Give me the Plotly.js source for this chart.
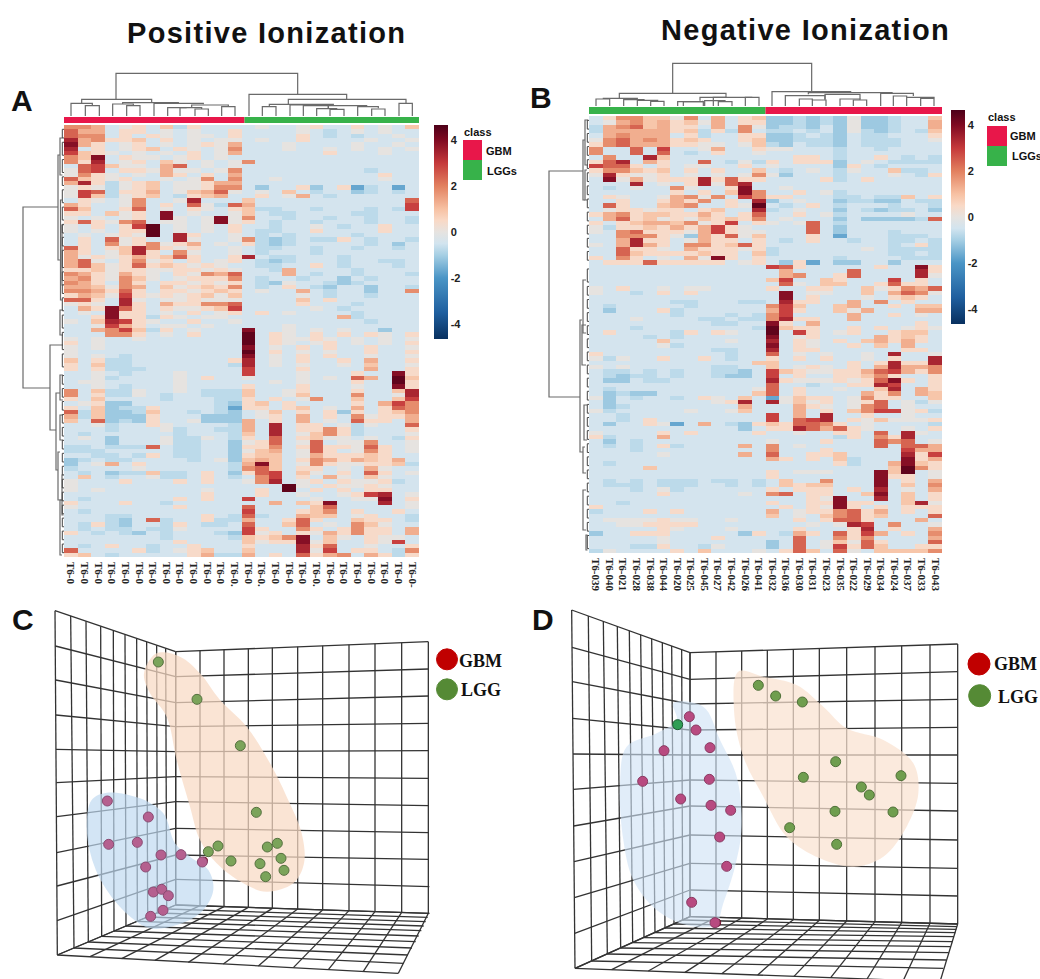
<!DOCTYPE html>
<html><head><meta charset="utf-8">
<script src="https://cdn.plot.ly/plotly-3.0.1.min.js"></script>
<style>html,body{margin:0;padding:0;background:#fff;overflow:hidden}#p{width:1040px;height:979px}</style>
</head><body><div id="p"></div>
<script>
// ---- heat level code -> z value
const levelKeys = "dcba0123456789";
const levelVals = [-1.7,-1.1,-0.75,-0.45,0,0.45,0.9,1.3,1.8,2.4,2.9,3.4,3.9,4.4];
// ---- panel A rows (metabolites) x samples
const rowsA = [
"443a01a2b1aaa"+"a0aa01aa1a0a2","533a11a0a0aa1"+"aaaa0aba0a0aa","544a1a10a00a1"+"aaaa1ababaa0a","734112a1a0a00"+"a0aa1aaaa0aa0",
"831a01a0a0103"+"aaa0aaaa0aa0a","7a1a012a10a04"+"aaa0aa0a0a0a0","6210a0a0a1a03"+"aaaaaa1aaa0aa","428a100a01a0a"+"aaaaaaaaaaaaa",
"417a01a20a0a0"+"4aaaaaaaaaaaa","a56200a35a0a0"+"aaaaaaaaaaaaa","056a110300a04"+"aaaaaaaaabaaa","0410a0a31a1a3"+"aaaaaaaaaa1aa",
"52101aa0a04a4"+"aa0aaaaaaa0aa","371b012a00133"+"aaaaaaaaaaaaa","010b012a00144"+"acaa1ca1dbada","065b113a02350"+"a0a2abaacbaba",
"062b012ab123a"+"a1a03abaaaaaa","a10a04aa07aaa"+"2aaaaaaaaaaa5","31aa04a1a50b5"+"3aaaaaaaaaaa6","52aa15a0a10a1"+"2bbaabaaabab6",
"11a201a8a0aa0"+"2abbaaaabbaaa","0a0a01a80a080"+"4aabaabaabaab","151045a00a080"+"1abaabaaabaab","0a1a169a0a0a1"+"aabaa0abaa1aa",
"0a0a119a0a0a1"+"abbaa1aaaa1aa","a0a0109a71aa0"+"ababaaaabaaaa","a1a501aa70aa0"+"4bcbabb1abaab","a1a4014013a0a"+"1bcbaaaaabaca",
"51a1274101aa0"+"abbaabaabaaba","31a0271a40aa0"+"abaaabaaaaaaa","3010131251aa1"+"7abbaaabaaaaa","350a1401a1a01"+"abcbaaabaabba",
"352015121010a"+"abbaa1abaaaba","1120110011010"+"aab3aaaabaaaa","4310310a10435"+"aaa3abaabaaab","3410420a01114"+"abaabaacabaaa",
"431a41a110101"+"abc0aabcbaaaa","332043a201214"+"aba1abcaacaab","443151a110121"+"a0aa3abaacaa4","1320610101202"+"aaaa0abaabaaa",
"551a70a001000"+"aaaa2a1aaaaaa","010a71a311445"+"aaaa1aaabaaaa","a31851a100126"+"aaaaa0abaaaaa","a0a811a0a1a01"+"a1a0aaaabaaaa",
"aa1811b10a00a"+"aaaaaaa3baaaa","0a27610aa1aa0"+"aaaaaaaaabaaa","aa0631a00a0aa"+"aaa0aaaaaaaaa","aa3462b1a0aaa"+"8aa0a0a0aacaa",
"aaa441a0a1aaa"+"9a10a1a1a10a1","0a0aa0aaaaaaa"+"9a10010a0a0a0","1a0aaaaaaaaaa"+"9a10a01a0a0a1","0a0aaaaaaaaaa"+"8a0a1a1aa1aa0",
"0aaaaaaaaaaaa"+"9a1a0a0aa1aa1","0a0abaaaaaaaa"+"8a0a1a1aa0aa0","2a1bbaaaaaaa1"+"7a0a1aa1a3aa1","1a2bbaaaaaaab"+"7a0a0aa0a2aa0",
"1a1bbbaaaaaaa"+"6aaa1aaaa3aa1","aa0abaaa0aaaa"+"6aaa0aaa1aa81","aa0baaaa0a1aa"+"0aaa0a0a53a92","a00aaaaa0aaaa"+"aa0a0aaa1aa91",
"aa0abaaa0aaaa"+"1aaa1aaa0aa81","4a2bb0aa0abbb"+"2aa01aaa1aa27","4a1bb0abaabbb"+"2aa02aaa4aa07","1a2aaaabaaabb"+"1a1a04aa2aa26",
"a01ccaaaaaabc"+"12a1aaaa1a364","1a2cbb1aaaabd"+"11a12a0a3a154","5b2ccb2aababc"+"a02a1a1c1a124","3b2ccc1aaaccc"+"a01a3a1a40113",
"2a5cbc1aa0ccc"+"3a1a3a0a511a3","aa0baa10aaaab"+"3a7a11a0b0aa5","aaabaaa0baabb"+"3a7a1141baaa1","abaaaaaabaaab"+"2a7a0241baaa0",
"a0acaaa0bb0ab"+"1a5a1200a0ab1","aaacaaa0bbaac"+"015a05a004aa0","bbabbb5abbaac"+"114a1511051a0","bbbaaaaabbaac"+"023a051a041a0",
"aabbab1abbaac"+"122a0311121aa","cbabbaaaaba0c"+"232a14313213a","ca03a1aaaaaab"+"382a04100112b","baaaa0aaaaaab"+"452a11a0a30aa",
"abacbb2bba1ac"+"156a20a1a51a0","a2abaa0bba1ab"+"a46a1a30a20aa","0aaa1aaa1a1aa"+"047a01a1001ba","0aaaaaaaaaaaa"+"aaa90a10010aa",
"0a0aaaaaaa0aa"+"a1a9a1a1a11aa","aaaaaaaaaa1aa"+"a1aa0aa0167a0","abaaaaaa1a1aa"+"6aaaa0aa008a1","1aaa1aabaaaaa"+"aa3a218aaa7a0",
"0aaaaaaa1aaaa"+"5aaaa25aaaaa0","abaaaaaaaaaaa"+"6aaa124a1aa1a","aaabbaaaaa1ab"+"5baa322a01aab","aaabca5baa1bb"+"3aa151aa211ab",
"ab1bcaab1abba"+"5aa25a0a420aa","ababbabb0aaaa"+"61aa41a1411a3","1ababcabaaabc"+"601a1031411a3","aaaaaaabaaaab"+"21248a20a100a",
"aaaaaaaa1aaaa"+"2011802aa106a","aba1aabaa1aaa"+"1aaa715aa0aa1","5aaaa1ba012aa"+"2aaa706a11ab4","12abaaaaa13bb"+"3a1a5134a31b1"
];
// ---- panel B rows
const rowsB = [
"a1442204a3a12"+"ccbcbc0ccbaa2","a034231203a11"+"ccbcbc0ccbaa3","b3452311a3a40"+"cbbcac0ccbaa3","b3333312b1b4a"+"bbabac0bcbab2",
"a34333a1baa11"+"ccbabcabbaaa1","045343121aa12"+"ccbbbcabbbaa0","1453331100a02"+"bcabbcabbbaaa","4aa5a6aa03aa1"+"00aaabaabaaaa",
"4aa5a5aba1aa0"+"aaaaabaaaaaaa","a4aa72aaaaaaa"+"aa11abaa1abab","157a31aa5ab0b"+"1a111ca0abbbb","6551a1a00aa1a"+"0aaaac1abaaaa",
"144212a1a1aa2"+"aba0ab0aa2bba","071001a0a0a04"+"0caaabaaa0ab1","a803011171511"+"aaaa1ba1aaaaa","aaa7a0a17057a"+"aaaaaaaaaaaaa",
"aba0aa40aa18a"+"a0aaaaaaaaaaa","aaaaaa1a1a284"+"aa1a0baaaaaaa","a10aa03404a64"+"11aaabbabb2a1","aa1aa1314a1a7"+"ca0aacbbccabb",
"a51aa234aa109"+"aba1abaaabaab","a011011a12aa7"+"ba0aacabcbbac","1341221131a15"+"aa1a0baaaa0aa","a351201021214"+"a0aaacaccccb5",
"1a123324016a1"+"0a05abaaaaaaa","0b1121313610a"+"aaa5acaaaaaaa","0a45111036100"+"aaa5acaaabaaa","aa44410c31502"+"aaa1adaaabbba",
"aa3711a0311a1"+"aba1aabaabbab","0a3731a441251"+"aaaaaaaaaba1b","aa5110a311101"+"baaaaaa0abbbb","aa521111211a2"+"baaaaaaaabbab",
"1a41a0a3081a1"+"aaaaabaaaabbb","a111511111a01"+"ac1daccaacaaa","aaaaaaaaaaaaa"+"651aaaaa1aa81","aaaaaaaaaaaaa"+"a3aaaa5aaaa71",
"aaaaaaaaaaaaa"+"a34aa15aaaa70","aaaaaaaaaaaaa"+"26aa21aaa6a1a","aaaaaaaaaaaaa"+"a50a22aa1511a","0a1aa0a00aaaa"+"1aa11aa201435",
"0aaba1a1aaaaa"+"a8a00aa2a3540","aaaaaaaaaaaaa"+"a8a1aaa0a121a","aaaaaabbaaabb"+"a711aa3a4a1aa","abaaaaabaaaaa"+"462aa23aa1a22",
"acaaa1baaaaaa"+"361aa203aaa33","aaaaaabaaabab"+"46aaaa3aa1a0a","aaa0aaaabbabb"+"4711aa3aaaaaa","aaaaaaaaabbaa"+"81a3aaaaaaa1a",
"aaabaaaaaaaab"+"9211aa1a1a010","a1aaaab1a10aa"+"9a61a01aa122a","aaaababaaaaaa"+"8a01aaaa3121a","aaaaa2aaaa0aa"+"7a10a1a23131a",
"aaaaa0baaaaaa"+"8a10aa1a2a3aa","aaaaaaaaabbaa"+"7a11aaaaaa11a","1aaaaaaaaabaa"+"5a0a0aa0a7aa0","0b0aa1aa1abaa"+"1a1a1aa0a1aa7",
"aaaaaaaaaaaa2"+"2aaaaa1a17117","0a0aaaaaabbaa"+"2a010a1a37334","abbababaabbca"+"6210011356314","abcbbabaabcca"+"6a1aa11241aa1",
"accabbaaaaaaa"+"71000101581a1","aaaaaaaaaaaaa"+"5aabaa1176aa1","abaaaaaaaaaa0"+"5a1aa0aa27a31","acbccaaaaaaa2"+"5a1aaaa314a32",
"0cabaaba10a2a"+"d0211a0411aa2","acaaaaaaa017a"+"70201a015a0b0","acbaaaaaaaa3a"+"aa310a045a0aa","0baaaaa0aa02a"+"aa3a1a246601b",
"aabaaaaaaaaaa"+"6a3a7aa1aa0aa","aaba1aaaaaaaa"+"6a567a1020001","acaa10da3abc1"+"215541a0aaaab","aaaaaaaaaaaca"+"11753510aa0a1",
"0aaaa1a1aaaa1"+"aa0aa11a5a70a","1baaa3aaaaaaa"+"aaaaab1a417aa","acabaaaaaaaaa"+"0aaa1aaa545a0","ababa1baaaa3a"+"4a0aaaaa5a553",
"aaabaaaaaaaaa"+"4aaa1aaaaa633","aaaaa0aaaaa3a"+"5aa112aaaa716","aaaaaaaaaaaaa"+"31a1a2baaa813","abaaaaaaaaaaa"+"aaaaa1baa3821",
"aaaa2aaaaaaaa"+"aaaaaaaaa2941","aaaaaaaaaaaaa"+"1a000aaa829a0","aaaaaaaaaaaaa"+"1aaaaaaa811a0","abababbbabbab"+"a2aa4aaa8a1a3",
"abbbabbbaabab"+"a2122aaa8a2a4","aaaba0baaaaaa"+"1a111a1a7a0a3","aaaaa1aaaaa0a"+"45a11aa28a2a1","aaaaaaaaaaaaa"+"aaa108aa7a2a1",
"aabaaaaaaaaaa"+"1aa11811aa270","1aaaaaaaaaaaa"+"a1a1081a1a111","baaa1a1aaaaaa"+"3a0114513a1a1","aaaaaaaaaaaaa"+"2a0a24512aaa5",
"a0000100aa0aa"+"aa1a1551aaa3a","aa001111aaaaa"+"aaa0a076a4aa0","aaaaa10aaa0aa"+"aa1aaa17a1aa3","caa111aaaaac1"+"ab31a5163a1a4",
"aaaaa0aaa1aaa"+"aa5aa414aaaa3","aaaaa0aaaaaaa"+"ca5a02051aaa5","aaabb1aab0aaa"+"ca5a06152aa11","b0aaaa1a2aaa0"+"a152a50a22224"
];
const labelsA = ["T6-0","T6-0","T6-0","T6-0","T6-0","T6-0","T6-0","T6-0","T6-0","T6-0","T6-0","T6-0","T6-0.","T6-0","T6-0.","T6-0","T6-0","T6-0","T6-0.","T6-0","T6-0","T6-0","T6-0","T6-0","T6-0","T6-0-"];
const labelsB = ["T6-039","T6-040","T6-021","T6-028","T6-038","T6-044","T6-020","T6-025","T6-045","T6-027","T6-042","T6-026","T6-041","T6-032","T6-036","T6-030","T6-031","T6-023","T6-035","T6-022","T6-029","T6-034","T6-024","T6-037","T6-033","T6-043"];
const colorStopZ = [-4.65,-3.5,-2,-1,-0.5,0,0.5,1,2,3,4,4.65];
const colorStopC = ["#08305f","#1f5f9f","#4a95c6","#a6cfe4","#d2e4ef","#e6e3e0","#f9d9c6","#f7c1a3","#e2805f","#c5393b","#7f0a22","#4d0019"];
const barTicks = [4,2,0,-2,-4];
// ---- dendrograms: [left, right, top, leftBottom, rightBottom]
const dendTopA = [[348,893,40,118,103],[245,455,118,130,128],[213,277,130,168,137],[256,298,137,168,168],[368,535,128,132,130],[338,400,132,168,137],[380,420,137,168,168],[462,610,130,168,133],[575,685,135,143,140],[503,560,143,168,143],[540,605,143,168,147],[585,625,147,168,168],[665,705,140,168,168],
[747,1040,103,168,118],[865,1218,118,133,130],[1197,1237,130,168,168],[808,1000,133,140,135],[787,828,140,168,168],[870,985,135,168,137],[910,985,137,168,146],[950,1010,146,168,148],[990,1032,148,168,168],[985,1100,137,146,140],[1073,1135,140,168,145],[1115,1155,147,168,168]];
const dendTopB = [[428,845,40,130,125],[268,588,130,145,137],[198,239,147,168,168],[220,322,145,147,149],[281,342,149,168,151],[322,383,151,168,154],[362,402,154,168,168],[443,518,155,168,152],[460,520,155,168,168],[510,588,142,152,137],[524,585,152,168,155],[565,606,155,168,168],[550,667,142,168,142],[646,687,142,168,168],
[726,962,125,168,128],[835,1088,128,133,128],[766,885,137,168,147],[808,847,147,168,150],[847,888,150,168,168],[885,990,133,150,147],[930,990,147,168,150],[970,1010,150,168,168],[1052,1150,130,168,138],[1090,1130,138,168,142],[1130,1212,142,168,145],[1172,1212,145,168,168]];
// [top y, bottom y, left x, top-right x, bottom-right x]
const dendLeftA = [[207,388,23,58,50],[155,260,58,60,60.5],[138,175,60,62.5,62.5],[200,300,60.5,62,62],[225,285,62,63.5,63.5],[310,335,60,63,63],[345,430,50,63,56],[393,470,56,60,58],[375,400,60,63,63],[452,500,58,60,62],[500,555,60,62,62],[415,440,60,63,63],[475,515,62,63.5,63.5]];
const dendLeftB = [[171,397,549,583,580],[140,200,583,585,585],[120,165,585,588,588],[170,200,585,587,587],[280,333,583,586,586],[320,452,580,582,583],[325,365,582,586,586],[447,473,583,585,586],[490,530,583,586,586],[535,550,586,587.5,587.5],[405,440,584,587,587]];
const leafRowsA = [[1,3],[4,7],[8,11],[12,14],[15,18],[19,22],[23,25],[26,28],[29,33],[34,36],[37,39],[40,43],[44,47],[48,52],[53,56],[58,60],[61,63],[64,66],[67,69],[70,72],[73,75],[76,78],[79,81],[82,84],[85,87],[88,90],[91,93],[94,96],[97,99]];
const leafRowsB = [[1,3],[4,6],[7,9],[10,12],[13,15],[16,18],[19,21],[22,24],[25,27],[28,30],[31,33],[35,38],[39,41],[42,44],[45,47],[48,50],[51,53],[54,56],[57,59],[60,62],[63,65],[66,68],[69,71],[72,74],[75,77],[78,80],[81,83],[84,86],[87,89],[90,92],[93,95],[96,99]];
// ---- panel C: projected 3D box
const cWallTopX=[165,212,258,302,340,375,410,440,470,497,527], cWallTopY=[32,48,64,79,92,104,116,126,136,145,155];
const cWallBotX=[172,222,265,305,342,378,412,443,472,500,527], cWallBotY=[1065,1044,1026,1009,993,978,964,951,939,927,915];
const cEdgeX=[165,166,167,168,168,169,170,170,171,171,172], cEdgeY=[32,138,240,345,448,548,650,758,858,962,1065];
const cCornerY=[155,230,308,380,455,530,605,685,765,838,915];
const cBackX=[527,600,672,745,817,893,968,1047,1125,1205,1285], cBackTopY=[155,152,149,146,143,140,137,134,131,128,125], cBackBotY=[915,917,920,922,925,927,930,932,935,937,940];
const cRightX=[1285,1285,1286,1286,1286,1286,1287,1287,1287,1288,1288], cRightY=[125,207,288,370,452,535,617,698,778,860,940];
const cFrontX=[172,270,365,465,565,670,775,880,985,1090,1195], cFrontY=[1065,1070,1076,1081,1087,1092,1098,1103,1109,1114,1120];
const cSideX=[1195,1211,1224,1236,1247,1256,1264,1271,1277,1283,1288], cSideY=[1120,1090,1065,1044,1025,1008,992,978,965,952,940];
const cPeachX=[500,450,432,470,540,600,660,740,810,860,905,912,880,800,730,650,600,570,530,500], cPeachY=[350,280,220,160,170,220,300,380,490,590,700,790,850,875,850,790,720,620,480,350];
const cBlueX=[280,260,275,320,420,490,525,570,625,640,605,530,450,385,320,280], cBlueY=[790,680,600,578,595,640,730,770,810,870,935,975,985,945,870,790];
const cGbmX=[322,445,326,412,483,543,437,607,460,485,505,489,452], cGbmY=[603,651,733,727,765,764,801,786,876,868,887,931,949];
const cLggX=[475,591,721,769,625,654,693,802,832,843,780,852,797], cLggY=[186,298,437,637,755,738,783,741,730,775,791,811,830];
// ---- panel D
const dWallTopX=[125,175,220,262,298,332,365,397,425,455,480], dWallTopY=[30,48,64,79,92,104,116,128,138,149,158];
const dWallBotX=[135,185,232,272,308,342,375,405,432,458,480], dWallBotY=[1105,1083,1062,1044,1028,1013,998,984,972,960,950];
const dEdgeX=[125,126,127,128,129,130,131,132,133,134,135], dEdgeY=[30,142,245,355,462,568,678,785,893,1000,1105];
const dCornerY=[158,238,312,390,465,540,618,705,790,870,950];
const dBackX=[480,558,635,712,790,868,950,1035,1115,1200,1283], dBackTopY=[158,155,153,150,148,145,142,140,137,135,132], dBackBotY=[950,952,954,957,959,961,963,965,968,970,972];
const dRightX=[1283,1283,1283,1283,1283,1283,1283,1283,1283,1283,1283], dRightY=[132,215,298,382,465,550,633,720,805,888,972];
const dFrontX=[135,245,355,465,575,683,792,902,1011,1120,1230], dFrontY=[1105,1109,1113,1117,1121,1125,1129,1133,1137,1141,1145];
const dSideX=[1230,1240,1249,1256,1262,1267,1272,1276,1279,1281,1283], dSideY=[1145,1105,1080,1058,1040,1025,1010,998,988,980,972];
const dPeachX=[612,625,700,800,880,950,1060,1150,1165,1130,1060,970,870,770,700,640,612], dPeachY=[330,215,230,255,320,385,420,490,580,680,770,800,775,710,590,470,330];
const dBlueX=[430,520,570,620,635,615,580,555,470,380,310,280,270,290,380,440,430], dBlueY=[310,320,420,530,680,800,910,975,975,930,840,720,550,440,400,360,310];
const dGbmX=[478,498,540,402,338,538,452,543,602,569,590,485,555], dGbmY=[350,390,443,452,544,538,597,616,631,711,799,907,968];
const dLggX=[685,737,817,917,820,1113,994,1018,915,1089,779,920], dLggY=[256,288,306,485,532,527,561,585,634,636,683,733];

// ---- builders
const W=1040,H=979;
const px=v=>v/W, py=v=>1-v/H;
const decode=rows=>rows.map(s=>Array.from(s.padEnd(26,"a").slice(0,26)).map(c=>levelVals[levelKeys.indexOf(c)]));
const colorscale=colorStopZ.map((z,i)=>[(z+4.65)/9.3,colorStopC[i]]);
const idx=Array.from({length:26},(_,i)=>i);
const ridx=Array.from({length:100},(_,i)=>i);
function heat(z,xa,ya,barX,barY){return {type:'heatmap',z:z,x:idx,y:ridx,xaxis:xa,yaxis:ya,colorscale:colorscale,zmin:-4.65,zmax:4.65,hoverinfo:'skip',
 colorbar:{x:px(barX),xref:'paper',xanchor:'left',y:py(barY),yref:'paper',yanchor:'top',lenmode:'pixels',len:214,thicknessmode:'pixels',thickness:14,ypad:0,xpad:0,outlinewidth:0,tickmode:'array',tickvals:barTicks,ticktext:barTicks.map(String),ticks:'',ticklabelposition:'outside',tickfont:{family:'Liberation Sans',size:11,color:'#222',weight:700}}};}
function dendV(list,xa,ya){const xs=[],ys=[];list.forEach(m=>{xs.push(m[0],m[0],m[1],m[1],null);ys.push(m[3],m[2],m[2],m[4],null);});
 return {type:'scatter',mode:'lines',x:xs,y:ys,xaxis:xa,yaxis:ya,line:{color:'#6a6a6a',width:1.2},hoverinfo:'skip'};}
function dendH(list){const xs=[],ys=[];list.forEach(m=>{xs.push(m[3],m[2],m[2],m[4],null);ys.push(m[0],m[0],m[1],m[1],null);});
 return {type:'scatter',mode:'lines',x:xs,y:ys,xaxis:'x',yaxis:'y',line:{color:'#6a6a6a',width:1.2},hoverinfo:'skip'};}
function leaves(list,top,rowH,x0,x1){const xs=[],ys=[];list.forEach(p=>{const a=top+p[0]*rowH,b=top+p[1]*rowH;xs.push(x1,x0,x0,x1,null);ys.push(a,a,b,b,null);});
 return {type:'scatter',mode:'lines',x:xs,y:ys,xaxis:'x',yaxis:'y',line:{color:'#444',width:1},hoverinfo:'skip'};}
function grid(g,xa,ya){const xs=[],ys=[];const seg=(a,b,c,d)=>{xs.push(a,c,null);ys.push(b,d,null);};
 for(let i=0;i<11;i++){
  seg(g.wtx[i],g.wty[i],g.wbx[i],g.wby[i]);
  seg(g.ex[i],g.ey[i],g.bx[0],g.cy[i]);
  seg(g.bx[i],g.bty[i],g.bx[i],g.bby[i]);
  seg(g.bx[0],g.cy[i],g.rx[i],g.ry[i]);
  seg(g.bx[i],g.bby[i],g.fx[i],g.fy[i]);
  seg(g.wbx[i],g.wby[i],g.sx[i],g.sy[i]);
 }
 return {type:'scatter',mode:'lines',x:xs,y:ys,xaxis:xa,yaxis:ya,line:{color:'#333',width:1.3},hoverinfo:'skip'};}
function blob(x,y,c,xa,ya){return {type:'scatter',mode:'lines',x:x,y:y,xaxis:xa,yaxis:ya,fill:'toself',fillcolor:c,line:{width:0,shape:'spline',smoothing:1},hoverinfo:'skip'};}
function pts(x,y,c,b,s,xa,ya){return {type:'scatter',mode:'markers',x:x,y:y,xaxis:xa,yaxis:ya,marker:{size:s,color:c,line:{color:b,width:1}},hoverinfo:'skip'};}

const gC={wtx:cWallTopX,wty:cWallTopY,wbx:cWallBotX,wby:cWallBotY,ex:cEdgeX,ey:cEdgeY,cy:cCornerY,bx:cBackX,bty:cBackTopY,bby:cBackBotY,rx:cRightX,ry:cRightY,fx:cFrontX,fy:cFrontY,sx:cSideX,sy:cSideY};
const gD={wtx:dWallTopX,wty:dWallTopY,wbx:dWallBotX,wby:dWallBotY,ex:dEdgeX,ey:dEdgeY,cy:dCornerY,bx:dBackX,bty:dBackTopY,bby:dBackBotY,rx:dRightX,ry:dRightY,fx:dFrontX,fy:dFrontY,sx:dSideX,sy:dSideY};

const peach='rgba(248,218,196,0.72)', blue='rgba(190,216,240,0.68)';
const traces=[
 heat(decode(rowsA),'x2','y2',434,125),
 heat(decode(rowsB),'x3','y3',951,110),
 dendV(dendTopA,'x4','y4'), dendV(dendTopB,'x5','y5'),
 dendH(dendLeftA), dendH(dendLeftB),
 leaves(leafRowsA,125,4.32,62.3,64), leaves(leafRowsB,116,4.37,587.3,589),
 grid(gC,'x6','y6'), blob(cPeachX,cPeachY,peach,'x6','y6'), blob(cBlueX,cBlueY,blue,'x6','y6'),
 pts([612],[782],'#a00020','#700010',7,'x6','y6'),
 pts(cGbmX,cGbmY,'#b5608f','#8a4a72',10,'x6','y6'), pts(cLggX,cLggY,'#7ba45a','#55703f',10,'x6','y6'),
 pts([1341],[178],'#c00000','#c00000',21,'x6','y6'), pts([1341],[268],'#558a35','#558a35',21,'x6','y6'),
 grid(gD,'x7','y7'), blob(dPeachX,dPeachY,'rgba(250,226,208,0.72)','x7','y7'), blob(dBlueX,dBlueY,'rgba(206,226,246,0.62)','x7','y7'),
 pts([443],[374],'#2f9e55','#1c5a32',10,'x7','y7'),
 pts([560],[968],'#8a0020','#600010',8,'x7','y7'),
 pts(dGbmX,dGbmY,'#b84a80','#8a3a62',10,'x7','y7'), pts(dLggX,dLggY,'#6f9e4e','#4f7038',10,'x7','y7'),
 pts([1347],[192],'#c00000','#c00000',22,'x7','y7'), pts([1349],[287],'#558a35','#558a35',22,'x7','y7')
];
const hid={visible:false,fixedrange:true};
const tickAx=(l,r,lab,anchor)=>({domain:[px(l),px(r)],anchor:anchor,range:[-0.5,25.5],tickmode:'array',tickvals:idx,ticktext:lab,tickangle:90,ticks:'',ticklabelstandoff:4,showgrid:false,zeroline:false,showline:false,tickfont:{family:'Liberation Serif',size:11,color:'#222',weight:700},fixedrange:true});
const heatY=(t,b,anchor)=>({domain:[py(b),py(t)],anchor:anchor,range:[99.5,-0.5],visible:false,fixedrange:true});
const txt=(t,x,y,size,fam,bold,anchor,color)=>({text:t,x:x,y:y,xref:'x',yref:'y',showarrow:false,xanchor:anchor||'left',yanchor:'middle',font:{family:fam||'Liberation Sans',size:size,color:color||'#111',weight:bold?700:400}});
const txtP=(t,x,y,size,xa,ya)=>Object.assign(txt(t,x,y,size,'Liberation Serif',true),{xref:xa,yref:ya});
const rect=(x0,y0,x1,y1,c)=>({type:'rect',xref:'x',yref:'y',x0,y0,x1,y1,fillcolor:c,line:{width:0},layer:'below'});
const red='#e8174a', green='#37b24a';
const layout={width:W,height:H,margin:{l:0,r:0,t:0,b:0},paper_bgcolor:'#fff',plot_bgcolor:'rgba(0,0,0,0)',showlegend:false,font:{family:'Liberation Sans'},
 xaxis:Object.assign({domain:[0,1],range:[0,W],anchor:'y'},hid),yaxis:Object.assign({domain:[0,1],range:[H,0],anchor:'x'},hid),
 xaxis2:tickAx(64,419,labelsA,'y2'),yaxis2:heatY(125,557,'x2'),
 xaxis3:tickAx(589,942,labelsB,'y3'),yaxis3:heatY(116,553,'x3'),
 xaxis4:Object.assign({domain:[0,px(530)],range:[0,1590],anchor:'y4'},hid),yaxis4:Object.assign({domain:[py(340),py(60)],range:[840,0],anchor:'x4'},hid),
 xaxis5:Object.assign({domain:[px(530),1],range:[0,1530],anchor:'y5'},hid),yaxis5:Object.assign({domain:[py(330),py(50)],range:[840,0],anchor:'x5'},hid),
 xaxis6:Object.assign({domain:[0,px(530)],range:[0,1590],anchor:'y6'},hid),yaxis6:Object.assign({domain:[0,py(600)],range:[1137,0],anchor:'x6'},hid),
 xaxis7:Object.assign({domain:[px(530),1],range:[0,1530],anchor:'y7'},hid),yaxis7:Object.assign({domain:[0,py(600)],range:[1137,0],anchor:'x7'},hid),
 shapes:[rect(64,117,244.5,123,red),rect(244.5,117,419,123,green),rect(589,107,765.5,114,green),rect(765.5,107,942,114,red),
  rect(463,140,482,160,red),rect(463,160,482,180,green),rect(987,126,1007,146,red),rect(987,146,1007,166,green)],
 annotations:[
  txt('<span style="letter-spacing:1.3px">Positive Ionization</span>',266,33,29,null,true,'center'),
  txt('<span style="letter-spacing:1.3px">Negative Ionization</span>',805,30,29,null,true,'center'),
  txt('A',22,100,30,null,true,'center'),txt('B',541,97,30,null,true,'center'),txt('C',23,619,30,null,true,'center'),txt('D',543,619,30,null,true,'center'),
  txt('class',462,132,11,null,true),txt('GBM',484,151,11,null,true),txt('LGGs',485,171,11,null,true),
  txt('class',986,117,11,null,true),txt('GBM',1008,136,11,null,true),txt('LGGs',1010,156,11,null,true),
  txtP('GBM',1372,183,18,'x6','y6'),txtP('LGG',1376,270,18,'x6','y6'),
  txtP('GBM',1385,192,18,'x7','y7'),txtP('LGG',1398,290,18,'x7','y7')
 ]};
Plotly.newPlot('p',traces,layout,{displayModeBar:false,staticPlot:true});
</script></body></html>
